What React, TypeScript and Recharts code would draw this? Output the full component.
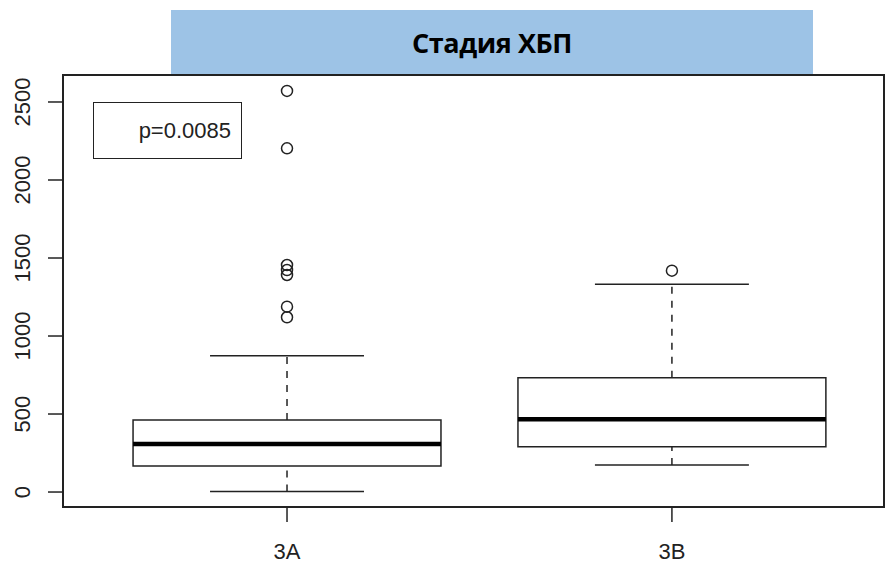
import React from 'react';
import {
  ComposedChart,
  XAxis,
  YAxis,
  Scatter,
  ReferenceArea,
  ReferenceLine,
} from 'recharts';

// ---- data ----
const categories = ['3A', '3B'];
const lowerWhisker = [3, 173];
const q1 = [167, 290];
const median = [308, 466];
const q3 = [462, 733];
const upperWhisker = [874, 1331];
const outliers3A = [2571, 2203, 1455, 1423, 1391, 1188, 1120];
const outliers3B = [1419];
const yTicks = [0, 500, 1000, 1500, 2000, 2500];
const pLabel = 'p=0.0085';
const title = 'Стадия ХБП';

// ---- layout ----
const W = 886;
const H = 564;
const X_DOMAIN: [number, number] = [0.418, 2.551];
const Y_DOMAIN: [number, number] = [-96, 2673];
const BOX_HALF = 0.4;
const CAP_HALF = 0.2;
const INK = '#222';
const FONT = '"Liberation Sans", Arial, sans-serif';

const outlierData = [
  ...outliers3A.map((v) => ({ x: 1, y: v })),
  ...outliers3B.map((v) => ({ x: 2, y: v })),
];

const YTick = (props: any) => {
  const { x, y, payload } = props;
  return (
    <text
      x={x}
      y={y}
      transform={`rotate(-90 ${x} ${y})`}
      textAnchor="middle"
      fontSize={22}
      fontFamily={FONT}
      fill={INK}
    >
      {payload.value}
    </text>
  );
};

const Circle = (props: any) => {
  const { cx, cy } = props;
  return <circle cx={cx} cy={cy} r={5.5} fill="none" stroke={INK} strokeWidth={1.5} />;
};

export default function App() {
  const boxes = categories.map((c, i) => {
    const x = i + 1;
    return (
      <React.Fragment key={c}>
        <ReferenceLine
          segment={[{ x, y: q3[i] }, { x, y: upperWhisker[i] }]}
          stroke={INK}
          strokeWidth={1.5}
          strokeDasharray="7 7"
          ifOverflow="visible"
        />
        <ReferenceLine
          segment={[{ x, y: lowerWhisker[i] }, { x, y: q1[i] }]}
          stroke={INK}
          strokeWidth={1.5}
          strokeDasharray="7 7"
          ifOverflow="visible"
        />
        <ReferenceLine
          segment={[{ x: x - CAP_HALF, y: upperWhisker[i] }, { x: x + CAP_HALF, y: upperWhisker[i] }]}
          stroke={INK}
          strokeWidth={1.5}
          ifOverflow="visible"
        />
        <ReferenceLine
          segment={[{ x: x - CAP_HALF, y: lowerWhisker[i] }, { x: x + CAP_HALF, y: lowerWhisker[i] }]}
          stroke={INK}
          strokeWidth={1.5}
          ifOverflow="visible"
        />
        <ReferenceArea
          x1={x - BOX_HALF}
          x2={x + BOX_HALF}
          y1={q1[i]}
          y2={q3[i]}
          fill="#fff"
          fillOpacity={1}
          stroke={INK}
          strokeWidth={1.5}
          ifOverflow="visible"
        />
        <ReferenceLine
          segment={[{ x: x - BOX_HALF, y: median[i] }, { x: x + BOX_HALF, y: median[i] }]}
          stroke="#000"
          strokeWidth={4.5}
          ifOverflow="visible"
        />
      </React.Fragment>
    );
  });

  return (
    <div style={{ position: 'absolute', left: 0, top: 0, width: W, height: H, background: '#fff' }}>
      <ComposedChart
        width={W}
        height={H}
        margin={{ top: 75, right: 2, bottom: 0, left: 0 }}
      >
        <XAxis
          type="number"
          dataKey="x"
          domain={X_DOMAIN}
          ticks={[1, 2]}
          tickFormatter={(v: number) => categories[v - 1]}
          allowDataOverflow
          height={57}
          tickSize={15}
          tickMargin={21}
          stroke={INK}
          axisLine={{ stroke: INK, strokeWidth: 2 }}
          tickLine={{ stroke: INK, strokeWidth: 1.5 }}
          tick={{ fontSize: 22, fontFamily: FONT, fill: INK }}
        />
        <YAxis
          type="number"
          dataKey="y"
          domain={Y_DOMAIN}
          ticks={yTicks}
          allowDataOverflow
          width={63}
          tickSize={15}
          tickMargin={18}
          axisLine={{ stroke: INK, strokeWidth: 2 }}
          tickLine={{ stroke: INK, strokeWidth: 1.5 }}
          tick={<YTick />}
        />
        <ReferenceArea
          x1={X_DOMAIN[0]}
          x2={X_DOMAIN[1]}
          y1={Y_DOMAIN[0]}
          y2={Y_DOMAIN[1]}
          fill="none"
          stroke={INK}
          strokeWidth={2}
          ifOverflow="visible"
        />
        {boxes}
        <Scatter
          data={outlierData}
          dataKey="y"
          isAnimationActive={false}
          shape={<Circle />}
        />
      </ComposedChart>
      <div
        style={{
          position: 'absolute',
          left: 171,
          top: 10,
          width: 642,
          height: 64,
          background: '#9DC3E6',
          display: 'flex',
          alignItems: 'center',
          justifyContent: 'center',
          fontFamily: '"Open Sans", "Noto Sans", sans-serif',
          fontWeight: 700,
          fontSize: 27,
          letterSpacing: -0.4,
          color: '#000',
        }}
      >
        {title}
      </div>
      <div
        style={{
          position: 'absolute',
          left: 93,
          top: 102,
          width: 149,
          height: 57,
          boxSizing: 'border-box',
          border: `1.5px solid ${INK}`,
          background: '#fff',
          fontFamily: FONT,
          fontSize: 22,
          color: INK,
          textAlign: 'right',
          paddingRight: 10,
          lineHeight: '55px',
        }}
      >
        {pLabel}
      </div>
    </div>
  );
}
